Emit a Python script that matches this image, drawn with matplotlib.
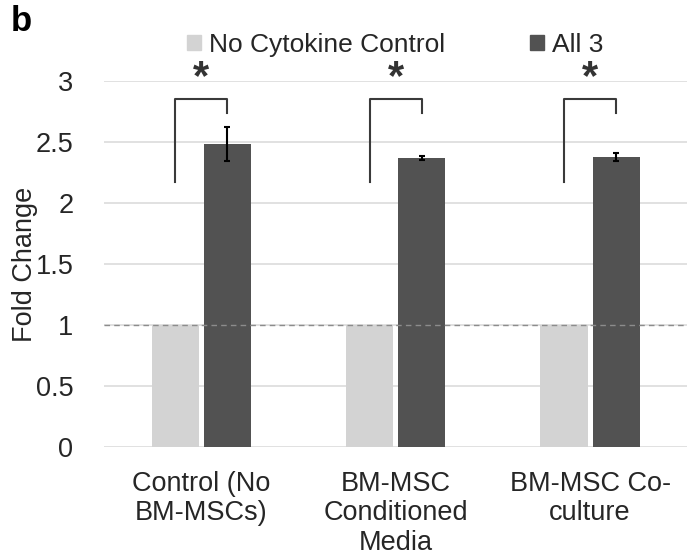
import numpy as np
import matplotlib
matplotlib.use('Agg')
import matplotlib.pyplot as plt
from matplotlib.patches import Patch

plt.rcParams['font.family'] = ['Liberation Sans', 'DejaVu Sans']

# data
groups = ['Control (No\nBM-MSCs)', 'BM-MSC\nConditioned\nMedia', 'BM-MSC Co-\nculture']
series_names = ['No Cytokine Control', 'All 3']
no_cytokine = [1.0, 1.0, 1.0]
all3 = [2.48, 2.37, 2.375]
all3_err = [0.14, 0.015, 0.035]

# significance brackets (left foot, top, right foot)
bracket_left = [2.17, 2.17, 2.17]
bracket_top = [2.85, 2.85, 2.85]
bracket_right = [2.735, 2.735, 2.735]

light = '#d3d3d3'
dark = '#525252'

fig = plt.figure(figsize=(6.88, 5.6), dpi=100)
ax = fig.add_axes([0.151, 0.2018, 0.848, 0.6536])

x = np.arange(len(groups))
w = 0.242
off = 0.134

ax.bar(x - off, no_cytokine, w, color=light, zorder=2)
ax.bar(x + off, all3, w, color=dark, zorder=2)
ax.errorbar(x + off, all3, yerr=all3_err, fmt='none', ecolor='black',
            elinewidth=1.5, capsize=2.5, capthick=1.5, zorder=3)

# reference line at fold change 1
ax.axhline(1, color='#8c8c8c', linestyle='--', linewidth=1.0, dashes=(4, 3), zorder=3)

for i in range(len(groups)):
    xl = x[i] - off
    xr = x[i] + off
    ax.plot([xl, xl, xr, xr], [bracket_left[i], bracket_top[i], bracket_top[i], bracket_right[i]],
            color='#3a3a3a', linewidth=1.5, zorder=4, clip_on=False)
    ax.text(x[i], bracket_top[i] + 0.01, '*', ha='center', va='bottom', fontsize=30,
            fontweight='bold', color='#333333')

ax.set_xlim(-0.5, 2.5)
ax.set_ylim(0, 3)
ax.set_yticks([0, 0.5, 1, 1.5, 2, 2.5, 3])
ax.set_yticklabels(['0', '0.5', '1', '1.5', '2', '2.5', '3'])
ax.set_xticks(x)
ax.set_xticklabels(groups, linespacing=1.18)
ax.tick_params(axis='both', length=0, labelsize=19.5, colors='#262626')
ax.tick_params(axis='y', pad=22)
ax.tick_params(axis='x', pad=17)
ax.yaxis.grid(True, color='#dcdcdc', linewidth=1.2, zorder=0)
ax.set_axisbelow(True)
for s in ax.spines.values():
    s.set_visible(False)

fig.text(0.037, 0.528, 'Fold Change', rotation=90, ha='center', va='center',
         fontsize=19.5, color='#262626')
fig.text(0.015, 0.962, 'b', fontsize=25, fontweight='bold', ha='left', va='center')

handles = [Patch(color=light), Patch(color=dark)]
fig.legend(handles, series_names, loc='center', bbox_to_anchor=(0.574, 0.92), ncol=2,
           frameon=False, fontsize=19, handlelength=0.55, handleheight=0.55,
           handletextpad=0.3, columnspacing=3.2, labelcolor='#262626')

fig.savefig('out.png', dpi=100)
